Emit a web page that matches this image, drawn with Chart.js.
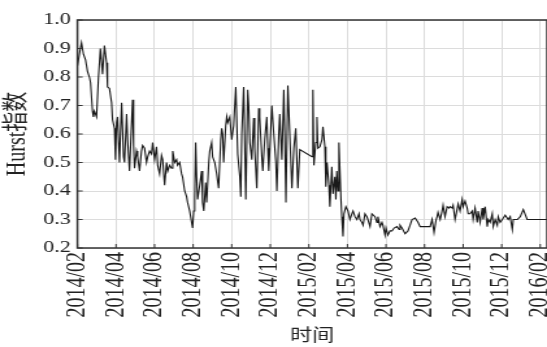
<!DOCTYPE html>
<html>
<head>
<meta charset="utf-8">
<script src="https://cdn.jsdelivr.net/npm/chart.js@4.4.1/dist/chart.umd.min.js"></script>
<style>
  html, body { margin: 0; padding: 0; background: #fff; overflow: hidden; }
  /* the source figure is stretched sideways, so draw narrow and widen it */
  #wrap { width: 421px; height: 347px; transform: scaleX(1.2993); transform-origin: 0 0; }
</style>
</head>
<body>
<div id="wrap"><canvas id="hurstChart" width="421" height="347"></canvas></div>
<script>
    // months counted from 2014/02
    const months = [
        0.00,0.10,0.21,0.31,0.42,0.52,0.62,0.68,0.78,0.83,0.88,0.99,1.09,1.19,1.30,1.40,1.51,1.56,1.66,1.77,
        1.82,1.92,1.97,2.03,2.08,2.18,2.23,2.29,2.39,2.44,2.55,2.60,2.70,2.75,2.86,2.91,2.96,3.06,3.12,3.22,
        3.32,3.38,3.48,3.58,3.64,3.74,
        3.84,3.90,4.00,4.10,4.16,4.26,4.36,4.42,4.52,4.62,4.68,4.78,4.88,4.94,5.04,5.14,5.19,5.30,5.40,5.45,
        5.56,5.66,5.71,5.82,5.87,5.97,6.03,6.08,6.13,6.18,6.23,6.34,6.44,6.49,6.55,6.65,6.70,6.81,6.86,6.96,
        7.01,7.12,7.22,7.32,7.43,7.48,7.53,7.58,7.69,7.74,7.79,
        7.90,8.00,8.10,8.21,8.31,8.42,8.47,8.52,8.62,8.68,8.73,8.83,8.88,8.94,9.04,9.14,9.19,9.30,9.40,9.45,
        9.56,9.61,9.71,9.82,9.87,9.92,10.03,10.08,10.18,10.29,10.34,10.44,10.49,10.60,10.70,10.75,10.81,10.91,11.01,11.12,
        11.22,11.32,11.43,11.53,
        12.16,12.21,12.26,12.36,12.42,12.47,12.57,12.68,12.73,12.83,12.88,12.94,13.04,13.09,13.19,13.25,13.35,13.40,13.45,13.51,
        13.56,13.66,13.71,13.77,13.82,13.92,14.03,14.13,14.23,14.29,14.39,14.49,14.60,14.65,14.75,14.81,14.91,15.01,15.06,15.17,
        15.27,15.32,15.43,15.53,15.58,
        15.69,15.79,15.84,15.95,16.00,16.10,16.21,16.31,16.42,16.57,16.68,16.73,16.83,16.99,17.14,17.25,17.35,17.51,17.66,17.77,
        17.87,18.13,18.29,18.39,18.49,18.60,18.65,18.70,18.81,18.91,18.96,19.06,19.17,19.27,19.32,19.43,19.48,19.58,19.64,19.74,
        19.84,19.95,20.00,20.10,20.21,20.26,20.36,20.47,20.52,20.62,20.73,20.78,20.88,20.99,21.04,21.14,21.25,21.30,21.40,21.51,
        21.56,21.66,21.77,21.82,21.92,22.03,22.18,22.34,22.44,22.55,22.60,22.81,22.96,23.12,23.32,23.64,24.35
    ];

    const hurst = [
        0.84,0.88,0.92,0.88,0.86,0.82,0.80,0.78,0.68,0.66,0.68,0.66,0.80,0.90,0.81,0.91,0.85,0.765,0.76,0.71,
        0.65,0.62,0.51,0.64,0.66,0.50,0.60,0.71,0.52,0.50,0.67,0.58,0.47,0.55,0.72,0.56,0.48,0.54,0.52,0.47,
        0.54,0.56,0.55,0.50,0.52,0.54,
        0.53,0.57,0.51,0.555,0.49,0.46,0.525,0.51,0.42,0.50,0.47,0.49,0.48,0.54,0.50,0.51,0.49,0.50,0.46,0.45,
        0.40,0.38,0.36,0.33,0.31,0.27,0.33,0.37,0.57,0.45,0.37,0.42,0.47,0.36,0.33,0.43,0.36,0.50,0.54,0.57,
        0.52,0.50,0.46,0.41,0.58,0.62,0.60,0.50,0.63,0.66,0.64,
        0.66,0.58,0.63,0.765,0.53,0.45,0.38,0.60,0.765,0.55,0.37,0.755,0.70,0.57,0.51,0.656,0.55,0.41,0.69,0.66,
        0.52,0.47,0.58,0.66,0.55,0.47,0.62,0.70,0.60,0.50,0.40,0.60,0.67,0.51,0.755,0.60,0.36,0.77,0.60,0.41,
        0.55,0.62,0.41,0.545,
        0.52,0.755,0.49,0.57,0.66,0.55,0.555,0.58,0.625,0.555,0.415,0.50,0.42,0.345,0.485,0.39,0.45,0.37,0.47,0.40,
        0.57,0.38,0.31,0.24,0.32,0.345,0.33,0.30,0.32,0.33,0.31,0.30,0.32,0.30,0.29,0.28,0.32,0.31,0.30,0.275,
        0.32,0.32,0.31,0.29,0.31,
        0.275,0.29,0.28,0.245,0.27,0.245,0.26,0.26,0.27,0.275,0.265,0.28,0.27,0.25,0.26,0.28,0.30,0.305,0.29,0.275,
        0.275,0.275,0.275,0.30,0.255,0.30,0.31,0.325,0.30,0.33,0.35,0.31,0.345,0.34,0.345,0.34,0.35,0.30,0.32,0.355,
        0.33,0.37,0.345,0.365,0.34,0.32,0.32,0.33,0.30,0.34,0.29,0.33,0.29,0.34,0.30,0.345,0.275,0.30,0.29,0.32,
        0.275,0.30,0.28,0.31,0.29,0.30,0.315,0.30,0.31,0.265,0.30,0.30,0.31,0.335,0.30,0.30,0.30
    ];

    // one label every two months
    const tickLabels = ['2014/02','2014/04','2014/06','2014/08','2014/10','2014/12',
        '2015/02','2015/04','2015/06','2015/08','2015/10','2015/12','2016/02'];

    const serif = "'Liberation Serif', 'Noto Sans CJK SC', serif";

    // frame round the plot plus short inward tick marks
    const framePlugin = {
        id: 'frame',
        afterDatasetsDraw(chart) {
            const {ctx, chartArea: a, scales} = chart;
            ctx.save();
            ctx.strokeStyle = '#333';
            ctx.lineWidth = 1.5;
            ctx.strokeRect(a.left, a.top, a.right - a.left, a.bottom - a.top);
            ctx.lineWidth = 1;
            ctx.beginPath();
            scales.x.ticks.forEach(t => {
                const x = scales.x.getPixelForValue(t.value);
                ctx.moveTo(x, a.bottom); ctx.lineTo(x, a.bottom - 4);
            });
            scales.y.ticks.forEach(t => {
                const y = scales.y.getPixelForValue(t.value);
                ctx.moveTo(a.left, y); ctx.lineTo(a.left + 4, y);
            });
            ctx.stroke();
            ctx.restore();
        }
    };

    const ctx = document.getElementById('hurstChart').getContext('2d');
    new Chart(ctx, {
        type: 'line',
        data: {
            datasets: [{
                data: months.map((m, i) => ({x: m, y: hurst[i]})),
                borderColor: '#1a1a1a',
                borderWidth: 1.1,
                pointRadius: 0,
                tension: 0,
                fill: false
            }]
        },
        options: {
            responsive: false,
            animation: false,
            devicePixelRatio: 1,
            layout: { padding: { top: 20, left: 0, right: 0, bottom: 0 } },
            plugins: { legend: { display: false }, tooltip: { enabled: false } },
            scales: {
                x: {
                    type: 'linear',
                    min: 0,
                    max: 24.35,
                    grid: { color: '#dcdcdc', drawTicks: false },
                    border: { display: false },
                    ticks: {
                        stepSize: 2,
                        includeBounds: false,
                        autoSkip: false,
                        minRotation: 90,
                        maxRotation: 90,
                        padding: 4,
                        color: '#222',
                        font: { family: serif, size: 20 },
                        callback: v => tickLabels[Math.round(v / 2)]
                    },
                    title: {
                        display: true,
                        text: '时间',
                        color: '#222',
                        font: { family: serif, size: 17 },
                        padding: { top: 0, bottom: 0 }
                    },
                    afterFit(scale) {
                        scale.height = 99;
                        scale.paddingLeft = 0;
                        scale.paddingRight = 0;
                    }
                },
                y: {
                    min: 0.2,
                    max: 1.0,
                    grid: { color: '#dcdcdc', drawTicks: false },
                    border: { display: false },
                    ticks: {
                        stepSize: 0.1,
                        padding: 5,
                        color: '#222',
                        font: { family: serif, size: 17 },
                        callback: v => v.toFixed(1)
                    },
                    title: {
                        display: true,
                        text: 'Hurst指数',
                        color: '#222',
                        font: { family: serif, size: 20 },
                        padding: { top: 2, bottom: 0 }
                    },
                    afterFit(scale) {
                        scale.width = 59.6;
                    }
                }
            }
        },
        plugins: [framePlugin]
    });
</script>
</body>
</html>
